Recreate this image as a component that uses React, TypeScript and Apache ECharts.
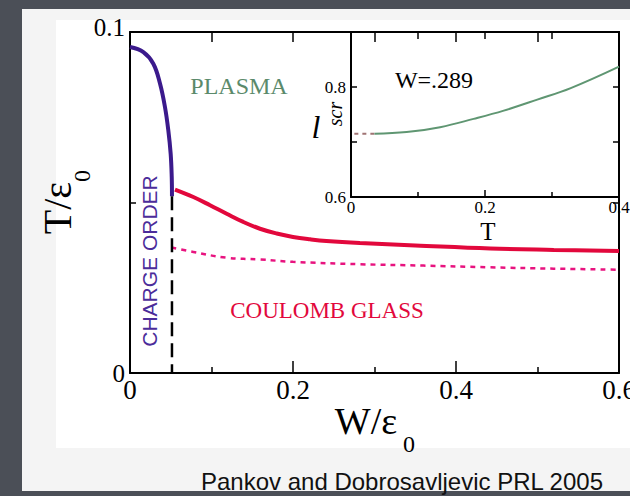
import React, { useEffect, useRef } from "react";
import * as echarts from "echarts";

// Main panel: phase boundaries (W/ε0 vs T/ε0)
const chargeOrderW = [0, 0.0164, 0.0286, 0.0368, 0.0429, 0.047, 0.0499, 0.0512, 0.0515];
const chargeOrderT = [0.0956, 0.0941, 0.0907, 0.0849, 0.078, 0.0712, 0.0643, 0.0575, 0.0518];

const glassW = [0.0552, 0.0777, 0.0982, 0.1186, 0.139, 0.1595, 0.18, 0.2, 0.221, 0.241, 0.282, 0.35, 0.442, 0.52, 0.6];
const glassT = [0.0538, 0.0516, 0.0492, 0.0467, 0.0443, 0.0423, 0.0409, 0.0399, 0.0392, 0.0387, 0.0381, 0.0374, 0.0365, 0.0361, 0.0358];

const dottedW = [0.051, 0.0777, 0.1186, 0.1595, 0.2, 0.282, 0.36, 0.44, 0.52, 0.6];
const dottedT = [0.0368, 0.0355, 0.0338, 0.0333, 0.0326, 0.0319, 0.0315, 0.031, 0.0306, 0.0303];

const boundaryW = [0.0515, 0.0515];
const boundaryT = [0.0518, 0];

// Inset: l_scr vs T at W=.289
const insetDashT = [0.005, 0.035];
const insetDashL = [0.715, 0.715];
const insetT = [0.035, 0.083, 0.133, 0.183, 0.228, 0.278, 0.328, 0.4];
const insetL = [0.715, 0.718, 0.727, 0.742, 0.757, 0.777, 0.798, 0.837];

const mainXTicks = ["0", "0.2", "0.4", "0.6"];
const mainYTicks = ["0", "0.1"];
const insetXTicks = ["0", "0.2", "0.4"];
const insetYTicks = ["0.6", "0.8"];

const SERIF = '"Liberation Serif", "Times New Roman", serif';
const SANS = '"Liberation Sans", Arial, sans-serif';

const zip = (a: number[], b: number[]) => a.map((v, i) => [v, b[i]]);
const near = (v: number, list: string[]) => {
  const hit = list.find((s) => Math.abs(parseFloat(s) - v) < 1e-6);
  return hit === undefined ? "" : hit;
};

const axisLine = { show: true, onZero: false, lineStyle: { color: "#000", width: 2 } };

function txt(text: string, x: number, y: number, fontSize: number, fill: string, extra: any = {}) {
  return {
    type: "text",
    x,
    y,
    rotation: extra.rotation || 0,
    style: {
      text,
      fontSize,
      fontFamily: extra.fontFamily || SERIF,
      fontStyle: extra.fontStyle || "normal",
      fill,
      align: "center",
      verticalAlign: "middle",
      textAlign: "center",
      textVerticalAlign: "middle",
    },
  };
}

export default function App() {
  const ref = useRef<HTMLDivElement>(null);
  useEffect(() => {
    if (!ref.current) return;
    const chart = echarts.init(ref.current, null, { renderer: "svg" });
    const option: any = {
      animation: false,
      grid: [
        { left: 130, top: 32, width: 489, height: 341, outerBoundsMode: "none", containLabel: false },
        { left: 351, top: 32, width: 268, height: 165, outerBoundsMode: "none", containLabel: false },
      ],
      xAxis: [
        {
          gridIndex: 0, type: "value", min: 0, max: 0.6, interval: 0.2, position: "bottom",
          axisLine, splitLine: { show: false },
          axisTick: { inside: true, length: 12, lineStyle: { color: "#000", width: 1.5 } },
          minorTick: { show: true, splitNumber: 2, length: 6, lineStyle: { color: "#000", width: 1.5 } },
          axisLabel: { fontFamily: SERIF, fontSize: 27, color: "#000", margin: 3, formatter: (v: number) => near(v, mainXTicks) },
        },
        {
          gridIndex: 0, type: "value", min: 0, max: 0.6, interval: 0.1, position: "top",
          axisLine, splitLine: { show: false }, axisLabel: { show: false },
          axisTick: { inside: true, length: 10, lineStyle: { color: "#000", width: 1.5 } },
        },
        {
          gridIndex: 1, type: "value", min: 0, max: 0.4, interval: 0.2, position: "bottom",
          axisLine, splitLine: { show: false },
          axisTick: { inside: true, length: 7, lineStyle: { color: "#000", width: 1.5 } },
          minorTick: { show: true, splitNumber: 2, length: 5, lineStyle: { color: "#000", width: 1.5 } },
          axisLabel: { fontFamily: SERIF, fontSize: 17, color: "#000", margin: 2, formatter: (v: number) => near(v, insetXTicks) },
        },
        {
          gridIndex: 1, type: "value", min: 0, max: 0.4, interval: 0.1, position: "top",
          axisLine, splitLine: { show: false }, axisLabel: { show: false },
          axisTick: { inside: true, length: 7, lineStyle: { color: "#000", width: 1.5 } },
        },
      ],
      yAxis: [
        {
          gridIndex: 0, type: "value", min: 0, max: 0.1, interval: 0.05, position: "left",
          axisLine, splitLine: { show: false },
          axisTick: { inside: true, length: 6, lineStyle: { color: "#000", width: 1.5 } },
          axisLabel: {
            fontFamily: SERIF, fontSize: 25, color: "#000", margin: 5,
            formatter: (v: number) => {
              const s = near(v, mainYTicks);
              return s === "0.1" ? "{up|0.1}" : s;
            },
            rich: { up: { fontFamily: SERIF, fontSize: 25, color: "#000", padding: [0, 0, 10, 0] } },
          },
        },
        {
          gridIndex: 0, type: "value", min: 0, max: 0.1, interval: 0.05, position: "right",
          axisLine, splitLine: { show: false }, axisLabel: { show: false },
          axisTick: { inside: true, length: 6, lineStyle: { color: "#000", width: 1.5 } },
        },
        {
          gridIndex: 1, type: "value", min: 0.6, max: 0.9, interval: 0.1, position: "left",
          axisLine, splitLine: { show: false },
          axisTick: { inside: true, length: 6, lineStyle: { color: "#000", width: 1.5 } },
          axisLabel: { fontFamily: SERIF, fontSize: 17, color: "#000", margin: 5, formatter: (v: number) => near(v, insetYTicks) },
        },
        {
          gridIndex: 1, type: "value", min: 0.6, max: 0.9, interval: 0.1, position: "right",
          axisLine, splitLine: { show: false }, axisLabel: { show: false },
          axisTick: { inside: true, length: 6, lineStyle: { color: "#000", width: 1.5 } },
        },
      ],
      series: [
        {
          type: "line", xAxisIndex: 0, yAxisIndex: 0, data: zip(chargeOrderW, chargeOrderT),
          smooth: 0.4, showSymbol: false, lineStyle: { color: "#3b1a8c", width: 4 },
        },
        {
          type: "line", xAxisIndex: 0, yAxisIndex: 0, data: zip(glassW, glassT),
          smooth: 0.4, showSymbol: false, lineStyle: { color: "#e2083c", width: 4 },
        },
        {
          type: "line", xAxisIndex: 0, yAxisIndex: 0, data: zip(dottedW, dottedT),
          smooth: 0.4, showSymbol: false, lineStyle: { color: "#e8137f", width: 2.5, type: [5, 5] },
        },
        {
          type: "line", xAxisIndex: 0, yAxisIndex: 0, data: zip(boundaryW, boundaryT),
          showSymbol: false, lineStyle: { color: "#000", width: 2.5, type: [14, 7] },
        },
        {
          type: "line", xAxisIndex: 2, yAxisIndex: 2, data: zip(insetDashT, insetDashL),
          showSymbol: false, lineStyle: { color: "#a07474", width: 2, type: [4, 4] },
        },
        {
          type: "line", xAxisIndex: 2, yAxisIndex: 2, data: zip(insetT, insetL),
          smooth: 0.4, showSymbol: false, lineStyle: { color: "#5f9672", width: 2 },
        },
      ],
      graphic: [
        txt("PLASMA", 239, 86, 24, "#5b8a6b"),
        txt("COULOMB GLASS", 327, 310, 23, "#e2083c"),
        txt("CHARGE ORDER", 149, 261, 21, "#4b2c9a", { rotation: Math.PI / 2, fontFamily: SANS }),
        txt("W=.289", 434, 80, 24, "#000"),
        txt("T/ε", 57, 208, 40, "#000", { rotation: Math.PI / 2 }),
        txt("0", 82, 176, 24, "#000", { rotation: Math.PI / 2 }),
        txt("W/ε", 366, 421, 38, "#000"),
        txt("0", 409, 444, 24, "#000"),
        txt("T", 488, 231, 25, "#000"),
        txt("l", 316, 127, 32, "#000", { fontStyle: "italic" }),
        txt("scr", 335, 114, 20, "#000", { rotation: Math.PI / 2, fontStyle: "italic" }),
        txt("Pankov and Dobrosavljevic PRL 2005", 402, 481, 24, "#111", { fontFamily: SANS }),
      ],
    };
    chart.setOption(option);
    return () => chart.dispose();
  }, []);

  return (
    <div style={{ position: "fixed", left: 0, top: 0, width: 630, height: 496, background: "#4b4f57", overflow: "hidden" }}>
      <div style={{ position: "absolute", left: 22, top: 9, width: 608, height: 482, background: "#f4f4f4" }} />
      <div style={{ position: "absolute", left: 56, top: 20, width: 574, height: 428, background: "#ffffff" }} />
      <div ref={ref} style={{ position: "absolute", left: 0, top: 0, width: 630, height: 496 }} />
    </div>
  );
}
